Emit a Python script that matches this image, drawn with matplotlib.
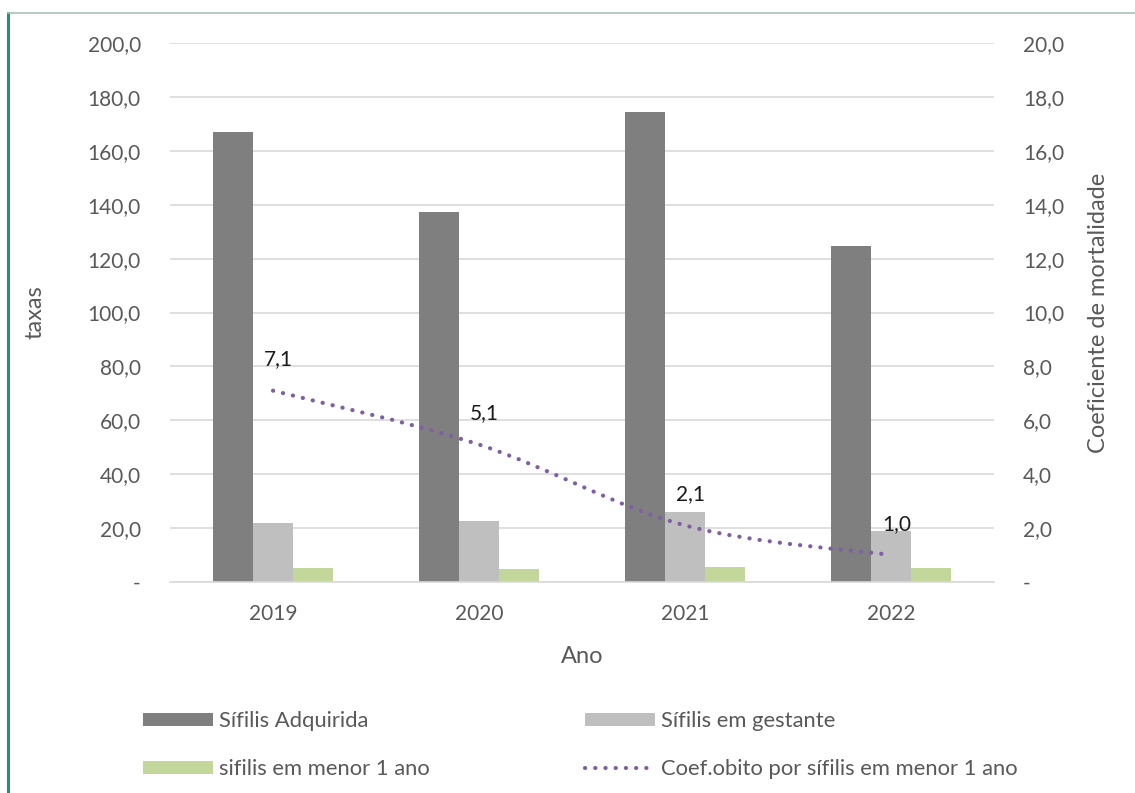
import numpy as np
import matplotlib
matplotlib.use("Agg")
import matplotlib.pyplot as plt
from matplotlib.lines import Line2D
from matplotlib.patches import Patch
from matplotlib.path import Path
from matplotlib.patches import PathPatch
from matplotlib.ticker import FuncFormatter, MultipleLocator

plt.rcParams["font.family"] = ["Lato", "DejaVu Sans"]

# Data
years = ["2019", "2020", "2021", "2022"]
sifilis_adquirida = [167.0, 137.3, 174.4, 124.7]
sifilis_gestante = [21.9, 22.6, 26.0, 18.9]
sifilis_menor1 = [5.2, 4.7, 5.7, 5.2]
coef_obito = [7.1, 5.1, 2.1, 1.0]

labels = ["Sífilis Adquirida", "Sífilis em gestante",
          "sifilis em menor 1 ano", "Coef.obito por sífilis em menor 1 ano"]

c_dark = "#7F7F7F"
c_light = "#BFBFBF"
c_green = "#C4D79B"
c_purple = "#7E5FA6"
c_text = "#595959"
c_grid = "#D9D9D9"

W, H = 1135, 793
fig = plt.figure(figsize=(W / 100, H / 100), dpi=100)
ax = fig.add_axes([170 / W, 1 - 582 / H, (994 - 170) / W, (582 - 43) / H])
ax2 = ax.twinx()

x = np.arange(len(years))
bw = 0.194
ax.bar(x - bw, sifilis_adquirida, bw, color=c_dark, zorder=2)
ax.bar(x, sifilis_gestante, bw, color=c_light, zorder=2)
ax.bar(x + bw, sifilis_menor1, bw, color=c_green, zorder=2)

ax.set_xlim(-0.5, len(years) - 0.5)
ax.set_ylim(0, 200)
ax.yaxis.set_major_locator(MultipleLocator(20))
ax2.set_ylim(0, 20)
ax2.yaxis.set_major_locator(MultipleLocator(2))


def fmt(v, pos):
    if abs(v) < 1e-9:
        return "-"
    return f"{v:.1f}".replace(".", ",")


ax.yaxis.set_major_formatter(FuncFormatter(fmt))
ax2.yaxis.set_major_formatter(FuncFormatter(fmt))

ax.grid(axis="y", color=c_grid, lw=1.2, zorder=0)
ax.set_axisbelow(True)
for a in (ax, ax2):
    for s in a.spines.values():
        s.set_visible(False)
    a.tick_params(length=0, labelsize=15, labelcolor=c_text)
ax.spines["bottom"].set_visible(True)
ax.spines["bottom"].set_color(c_grid)
ax.spines["bottom"].set_linewidth(1.2)
ax.tick_params(axis="y", pad=21)
ax2.tick_params(axis="y", pad=21)
ax.tick_params(axis="x", pad=16)

ax.set_xticks(x)
ax.set_xticklabels(years)
ax.set_xlabel("Ano", fontsize=17, color=c_text, labelpad=16)
ax.set_ylabel("taxas", fontsize=17, color=c_text, labelpad=30)
ax2.set_ylabel("Coeficiente de mortalidade", fontsize=17, color=c_text, labelpad=17)

# Smoothed line through the mortality coefficients (Catmull-Rom as cubic Bezier)
pts = np.column_stack([x, coef_obito]).astype(float)
verts = [tuple(pts[0])]
codes = [Path.MOVETO]
n = len(pts)
for i in range(n - 1):
    p0 = pts[i - 1] if i > 0 else pts[i]
    p1 = pts[i]
    p2 = pts[i + 1]
    p3 = pts[i + 2] if i + 2 < n else pts[i + 1]
    c1 = p1 + (p2 - p0) / 6.0
    c2 = p2 - (p3 - p1) / 6.0
    verts += [tuple(c1), tuple(c2), tuple(p2)]
    codes += [Path.CURVE4] * 3
dot_style = (0, (0.05, 2.4))
ax2.add_patch(PathPatch(Path(verts, codes), facecolor="none", edgecolor=c_purple,
                        lw=3.0, linestyle=dot_style, capstyle="round",
                        zorder=3))

for xi, v in zip(x, coef_obito):
    ax2.annotate(f"{v:.1f}".replace(".", ","), (xi, v), xytext=(4, 22.5),
                 textcoords="offset points", ha="center", va="center",
                 fontsize=15, color="#1A1A1A", zorder=4)

# Legend entries
handles = [
    Patch(facecolor=c_dark),
    Patch(facecolor=c_light),
    Patch(facecolor=c_green),
    Line2D([0], [0], color=c_purple, lw=3.0, linestyle=dot_style,
           dash_capstyle="round"),
]
positions = [(143, 721), (585, 721), (143, 769), (585, 769)]
leg_fs = 15.8
for h, lab, (px, py) in zip(handles, labels, positions):
    fig.legend(handles=[h], labels=[lab], loc="center left",
               bbox_to_anchor=(px / W, 1 - py / H), frameon=False,
               fontsize=leg_fs, labelcolor=c_text, borderpad=0,
               borderaxespad=0, handlelength=3.2, handleheight=0.55,
               handletextpad=0.25)

# Frame lines
fig.add_artist(Line2D([8 / W, 8 / W], [0, 1 - 13 / H], transform=fig.transFigure,
                      color="#2E8B7A", lw=2.2))
fig.add_artist(Line2D([8 / W, 1], [1 - 13 / H, 1 - 13 / H], transform=fig.transFigure,
                      color="#A9C1B9", lw=1.2))

fig.savefig("out.png", dpi=100)
